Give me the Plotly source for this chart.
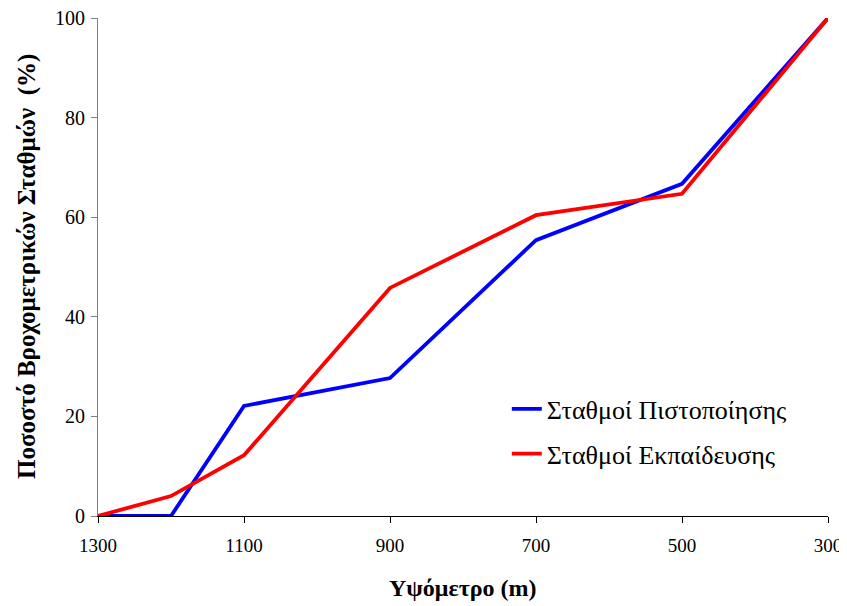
import plotly.graph_objects as go

altitude = [1300, 1200, 1100, 900, 700, 500, 300]
certification = [0, 0, 22.1, 27.7, 55.4, 66.7, 100]
training = [0, 4.0, 12.2, 45.8, 60.4, 64.7, 100]
x_ticks = [1300, 1100, 900, 700, 500, 300]
y_ticks = [0, 20, 40, 60, 80, 100]

font_family = "Liberation Serif"

fig = go.Figure()
fig.add_trace(go.Scatter(x=altitude, y=certification, mode="lines",
                         name="Σταθμοί Πιστοποίησης", legendgroup="a",
                         line=dict(color="#0000ff", width=3.8)))
fig.add_trace(go.Scatter(x=altitude, y=training, mode="lines",
                         name="Σταθμοί Εκπαίδευσης", legendgroup="b",
                         line=dict(color="#ff0000", width=3.8)))

fig.update_layout(
    width=839, height=598,
    margin=dict(l=90, r=19, t=10, b=90),
    plot_bgcolor="white", paper_bgcolor="white",
    font=dict(family=font_family, size=20, color="black"),
    showlegend=True,
    legend=dict(x=0.56, y=0.262, xanchor="left", yanchor="top",
                bgcolor="rgba(0,0,0,0)", font=dict(size=26, family=font_family),
                traceorder="grouped", tracegroupgap=8),
    xaxis=dict(range=[1300, 300], tickvals=x_ticks, ticktext=[str(v) for v in x_ticks],
               showgrid=False, zeroline=False, showline=True, linecolor="black", linewidth=1.2,
               ticks="outside", ticklen=6, tickcolor="black", tickfont=dict(size=19),
               ticklabelstandoff=6, automargin=False, ticklabeloverflow="allow"),
    yaxis=dict(range=[0, 100], tickvals=y_ticks, showgrid=False, zeroline=False,
               showline=True, linecolor="#808080", linewidth=1.2,
               ticks="outside", ticklen=6, tickcolor="#808080", tickfont=dict(size=20),
               ticklabelstandoff=2, automargin=False, ticklabeloverflow="allow"),
    annotations=[
        dict(text="<b>Υψόμετρο (m)</b>", xref="paper", yref="paper", x=0.5, y=0,
             xanchor="center", yanchor="middle", yshift=-72, showarrow=False,
             font=dict(size=24, family=font_family)),
        dict(text="<b>Ποσοστό Βροχομετρικών Σταθμών  (%)</b>", xref="paper", yref="paper",
             x=0, y=0.5, xanchor="center", yanchor="middle", xshift=-71, textangle=-90,
             showarrow=False, font=dict(size=25, family=font_family)),
    ],
)

fig.write_html("out.html")
